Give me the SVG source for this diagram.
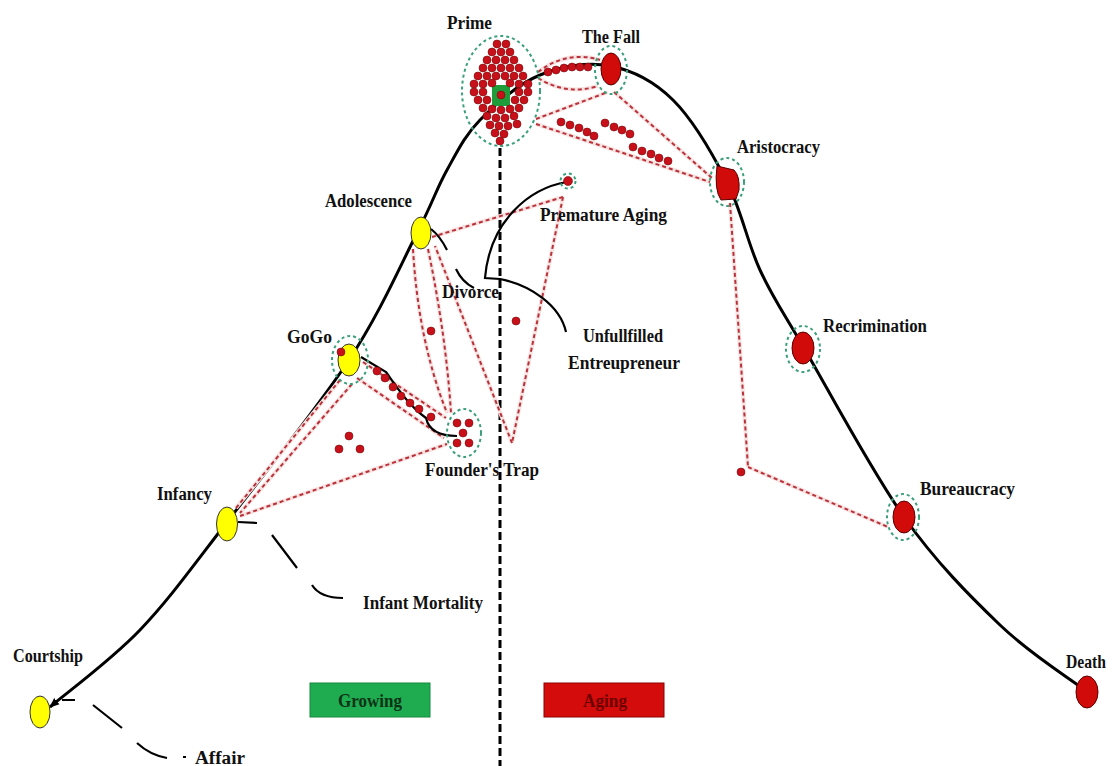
<svg xmlns="http://www.w3.org/2000/svg" xmlns:xlink="http://www.w3.org/1999/xlink" width="1112" height="766" viewBox="0 0 1112 766">
<style>
.lbl{font-family:"Liberation Serif",serif;font-weight:bold;font-size:18px;fill:#111}
.rd{fill:none;stroke:#b8323a;stroke-width:2;stroke-dasharray:4 3}
.halo{fill:none;stroke:#f9e2e2;stroke-width:4}
.gc{fill:none;stroke:#3a9f7a;stroke-width:2;stroke-dasharray:3 3}
.dot{fill:#c8101a;stroke:#7a0a0a;stroke-width:0.6}
.yn{fill:#ffff00;stroke:#333;stroke-width:1}
.rn{fill:#d10a0a;stroke:#5a0000;stroke-width:1}
.blk{fill:none;stroke:#000;stroke-width:3}
.thin{fill:none;stroke:#000;stroke-width:2.2}
</style>
<defs>
<marker id="arr" viewBox="0 0 10 10" refX="9" refY="5" markerWidth="10" markerHeight="10" markerUnits="userSpaceOnUse" orient="auto-start-reverse">
<path d="M0,1 L10,5 L0,9 z" fill="#000"/>
</marker>
<path id="r1" d="M432,237 L563,197"/>
<path id="r2" d="M563,197 L512,443"/>
<path id="r3" d="M512,443 L435,246"/>
<path id="r4" d="M413,249 Q418,340 447,413"/>
<path id="r5" d="M428,249 Q446,335 451,413"/>
<path id="r6" d="M363,362 L446,418"/>
<path id="r7" d="M357,378 L444,438"/>
<path id="r8" d="M352,384 L240,513"/>
<path id="r9" d="M240,516 L447,444"/>
<path id="r10" d="M236,508 L340,380"/>
<path id="r11" d="M538,72 Q567,50 600,60"/>
<path id="r12" d="M538,78 Q567,96 598,86"/>
<path id="r13" d="M536,119 L608,92"/>
<path id="r14" d="M536,124 L710,182"/>
<path id="r15" d="M614,92 L712,178"/>
<path id="r16" d="M730,203 L748,467"/>
<path id="r17" d="M748,467 L888,527"/>
</defs>
<rect width="1112" height="766" fill="#fff"/>

<!-- divider -->
<path d="M500,148 L500,766" fill="none" stroke="#000" stroke-width="3" stroke-dasharray="8 4"/>

<!-- main lifecycle curve -->
<path class="blk" marker-start="url(#arr)" d="M50,707 C65,694 110.5,660.8 140,630 C169.5,599.2 192.2,567 227,522 C261.8,477 317.3,408.2 349,360 C380.7,311.8 400.7,264.7 417,233 C433.3,201.3 436.5,188.8 447,170 C457.5,151.2 464.5,135.8 480,120 C495.5,104.2 518.3,84 540,75 C561.7,66 587.8,61.8 610,66 C632.2,70.2 653.5,80.7 673,100 C692.5,119.3 712.5,153.7 727,182 C741.5,210.3 747.2,242.3 760,270 C772.8,297.7 780,306.8 804,348 C828,389.2 871.3,470.8 904,517 C936.7,563.2 970.3,596.5 1000,625 C1029.7,653.5 1068.3,677.5 1082,688"/>

<g id="connectors">
<g class="halo">
<use xlink:href="#r1"/><use xlink:href="#r2"/><use xlink:href="#r3"/><use xlink:href="#r4"/><use xlink:href="#r5"/><use xlink:href="#r6"/><use xlink:href="#r7"/><use xlink:href="#r8"/><use xlink:href="#r9"/><use xlink:href="#r10"/><use xlink:href="#r11"/><use xlink:href="#r12"/><use xlink:href="#r13"/><use xlink:href="#r14"/><use xlink:href="#r15"/><use xlink:href="#r16"/><use xlink:href="#r17"/>
</g>
<g class="rd">
<use xlink:href="#r1"/><use xlink:href="#r2"/><use xlink:href="#r3"/><use xlink:href="#r4"/><use xlink:href="#r5"/><use xlink:href="#r6"/><use xlink:href="#r7"/><use xlink:href="#r8"/><use xlink:href="#r9"/><use xlink:href="#r10"/><use xlink:href="#r11"/><use xlink:href="#r12"/><use xlink:href="#r13"/><use xlink:href="#r14"/><use xlink:href="#r15"/><use xlink:href="#r16"/><use xlink:href="#r17"/>
</g>
<!-- black side connectors -->
<path class="thin" d="M62,700 L75,700 M93,705 L122,728 M137,743 Q150,755 167,758 M183,757 L186,757"/>
<path class="thin" d="M238,522 L257,523 M272,535 L297,568 M312,585 Q320,598 343,598"/>
<path class="thin" d="M431,229 Q440,236 447,250 M456,269 Q462,282 474,288"/>
<path class="thin" d="M567,182 C530,188 490,220 485,278 L500,279 C530,285 560,305 566,332"/>
<path class="thin" d="M361,357 L386,372 C396,386 408,405 426,418 Q430,436 457,436"/>
</g>

<!-- dots on edges -->
<g id="edge-dots" class="dot">
<circle cx="548" cy="72" r="4"/><circle cx="556" cy="70" r="4"/><circle cx="564" cy="68" r="4"/><circle cx="572" cy="67" r="4"/><circle cx="580" cy="67" r="4"/><circle cx="588" cy="67" r="4"/>
<circle cx="561" cy="122" r="4"/><circle cx="570" cy="125" r="4"/><circle cx="579" cy="128" r="4"/><circle cx="587" cy="132" r="4"/><circle cx="594" cy="136" r="4"/>
<circle cx="605" cy="123" r="4"/><circle cx="614" cy="127" r="4"/><circle cx="622" cy="130" r="4"/><circle cx="630" cy="134" r="4"/>
<circle cx="633" cy="147" r="4"/><circle cx="642" cy="151" r="4"/><circle cx="651" cy="154" r="4"/><circle cx="659" cy="158" r="4"/><circle cx="668" cy="161" r="4"/>
<circle cx="377" cy="371" r="4"/><circle cx="385" cy="378" r="4"/><circle cx="393" cy="387" r="4"/><circle cx="401" cy="396" r="4"/><circle cx="410" cy="403" r="4"/><circle cx="419" cy="409" r="4"/><circle cx="431" cy="417" r="4"/>
<circle cx="349" cy="436" r="4"/><circle cx="339" cy="449" r="4"/><circle cx="360" cy="449" r="4"/>
<circle cx="431" cy="331" r="4"/>
<circle cx="516" cy="321" r="4"/>
<circle cx="741" cy="472" r="4"/>
</g>

<!-- nodes -->
<g id="courtship">
<ellipse class="yn" cx="40" cy="712" rx="10" ry="16"/>
<text class="lbl" x="13" y="662" textLength="70" lengthAdjust="spacingAndGlyphs">Courtship</text>
</g>
<g id="affair">
<text class="lbl" x="195" y="764" textLength="50" lengthAdjust="spacingAndGlyphs">Affair</text>
</g>
<g id="infancy">
<ellipse class="yn" cx="227" cy="524" rx="10.5" ry="17"/>
<text class="lbl" x="157" y="500" textLength="55" lengthAdjust="spacingAndGlyphs">Infancy</text>
</g>
<g id="infant-mortality">
<text class="lbl" x="363" y="609" textLength="120" lengthAdjust="spacingAndGlyphs">Infant Mortality</text>
</g>
<g id="gogo">
<ellipse class="yn" cx="349" cy="360" rx="11" ry="16"/>
<circle class="dot" cx="341" cy="352" r="4"/>
<ellipse class="gc" cx="350" cy="360" rx="18" ry="24"/>
<text class="lbl" x="287" y="343" textLength="45" lengthAdjust="spacingAndGlyphs">GoGo</text>
</g>
<g id="adolescence">
<ellipse class="yn" cx="421" cy="233" rx="10" ry="16"/>
<text class="lbl" x="325" y="207" textLength="87" lengthAdjust="spacingAndGlyphs">Adolescence</text>
</g>
<g id="founders-trap">
<circle class="dot" cx="457" cy="423" r="4"/><circle class="dot" cx="469" cy="423" r="4"/><circle class="dot" cx="463" cy="433" r="4"/><circle class="dot" cx="457" cy="443" r="4"/><circle class="dot" cx="469" cy="443" r="4"/>
<ellipse class="gc" cx="464" cy="433" rx="17" ry="24"/>
<text class="lbl" x="425" y="476" textLength="114" lengthAdjust="spacingAndGlyphs">Founder's Trap</text>
</g>
<g id="divorce">
<text class="lbl" x="442" y="298" textLength="57" lengthAdjust="spacingAndGlyphs">Divorce</text>
</g>
<g id="premature-aging">
<circle class="dot" cx="568" cy="181" r="4.5"/>
<circle class="gc" cx="568" cy="181" r="7.5" stroke-width="1.2" stroke-dasharray="2 2"/>
<text class="lbl" x="540" y="221" textLength="127" lengthAdjust="spacingAndGlyphs">Premature Aging</text>
</g>
<g id="unfulfilled">
<text class="lbl" x="583" y="342" textLength="80" lengthAdjust="spacingAndGlyphs">Unfullfilled</text>
<text class="lbl" x="568" y="369" textLength="112" lengthAdjust="spacingAndGlyphs">Entreupreneur</text>
</g>
<g id="prime">
<ellipse class="gc" cx="501" cy="91" rx="39" ry="55"/>
<rect x="492" y="85" width="18" height="21" fill="#1f9d3a"/>
<g class="dot">
<circle cx="497" cy="44" r="4"/><circle cx="506" cy="44" r="4"/>
<circle cx="492" cy="52" r="4"/><circle cx="501" cy="52" r="4"/><circle cx="510" cy="52" r="4"/>
<circle cx="487" cy="60" r="4"/><circle cx="496" cy="60" r="4"/><circle cx="505" cy="60" r="4"/><circle cx="514" cy="60" r="4"/>
<circle cx="483" cy="68" r="4"/><circle cx="492" cy="68" r="4"/><circle cx="501" cy="68" r="4"/><circle cx="510" cy="68" r="4"/><circle cx="519" cy="68" r="4"/>
<circle cx="478" cy="76" r="4"/><circle cx="487" cy="76" r="4"/><circle cx="496" cy="76" r="4"/><circle cx="505" cy="76" r="4"/><circle cx="514" cy="76" r="4"/><circle cx="523" cy="76" r="4"/>
<circle cx="474" cy="84" r="4"/><circle cx="483" cy="84" r="4"/><circle cx="492" cy="83" r="4"/><circle cx="510" cy="83" r="4"/><circle cx="519" cy="84" r="4"/><circle cx="528" cy="84" r="4"/>
<circle cx="474" cy="92" r="4"/><circle cx="483" cy="92" r="4"/><circle cx="519" cy="92" r="4"/><circle cx="528" cy="92" r="4"/>
<circle cx="501" cy="95" r="4"/>
<circle cx="478" cy="100" r="4"/><circle cx="487" cy="100" r="4"/><circle cx="515" cy="100" r="4"/><circle cx="524" cy="100" r="4"/>
<circle cx="483" cy="108" r="4"/><circle cx="492" cy="109" r="4"/><circle cx="501" cy="110" r="4"/><circle cx="510" cy="109" r="4"/><circle cx="519" cy="108" r="4"/>
<circle cx="487" cy="116" r="4"/><circle cx="496" cy="118" r="4"/><circle cx="505" cy="118" r="4"/><circle cx="514" cy="116" r="4"/>
<circle cx="490" cy="125" r="4"/><circle cx="499" cy="126" r="4"/><circle cx="508" cy="126" r="4"/><circle cx="517" cy="124" r="4"/>
<circle cx="495" cy="133" r="4"/><circle cx="504" cy="134" r="4"/>
<circle cx="500" cy="141" r="4"/>
</g>
<text class="lbl" x="447" y="29" textLength="45" lengthAdjust="spacingAndGlyphs">Prime</text>
</g>
<g id="the-fall">
<ellipse class="rn" cx="611" cy="69" rx="10" ry="16"/>
<ellipse class="gc" cx="611" cy="70" rx="16" ry="24"/>
<text class="lbl" x="582" y="43" textLength="58" lengthAdjust="spacingAndGlyphs">The Fall</text>
</g>
<g id="aristocracy">
<path class="rn" d="M717,166 L734,170 Q740,176 739,190 L736,199 L721,200 Q714,190 717,166 z"/>
<ellipse class="gc" cx="727" cy="182" rx="17" ry="24"/>
<text class="lbl" x="737" y="153" textLength="83" lengthAdjust="spacingAndGlyphs">Aristocracy</text>
</g>
<g id="recrimination">
<ellipse class="rn" cx="803" cy="348" rx="11" ry="16"/>
<ellipse class="gc" cx="803" cy="349" rx="17" ry="23"/>
<text class="lbl" x="823" y="332" textLength="104" lengthAdjust="spacingAndGlyphs">Recrimination</text>
</g>
<g id="bureaucracy">
<ellipse class="rn" cx="904" cy="517" rx="11" ry="16"/>
<ellipse class="gc" cx="903" cy="517" rx="16" ry="23"/>
<text class="lbl" x="920" y="495" textLength="95" lengthAdjust="spacingAndGlyphs">Bureaucracy</text>
</g>
<g id="death">
<ellipse class="rn" cx="1087" cy="692" rx="11" ry="16"/>
<text class="lbl" x="1066" y="668" textLength="40" lengthAdjust="spacingAndGlyphs">Death</text>
</g>
<g id="growing">
<rect x="310" y="683" width="120" height="34" fill="#1fab4f" stroke="#178a3e" stroke-width="1"/>
<text class="lbl" x="370" y="707" text-anchor="middle" style="fill:#0d3316" textLength="64" lengthAdjust="spacingAndGlyphs">Growing</text>
</g>
<g id="aging">
<rect x="544" y="683" width="120" height="34" fill="#d40c0c" stroke="#8a0000" stroke-width="1"/>
<text class="lbl" x="605" y="707" text-anchor="middle" style="fill:#6e0000" textLength="44" lengthAdjust="spacingAndGlyphs">Aging</text>
</g>
</svg>
